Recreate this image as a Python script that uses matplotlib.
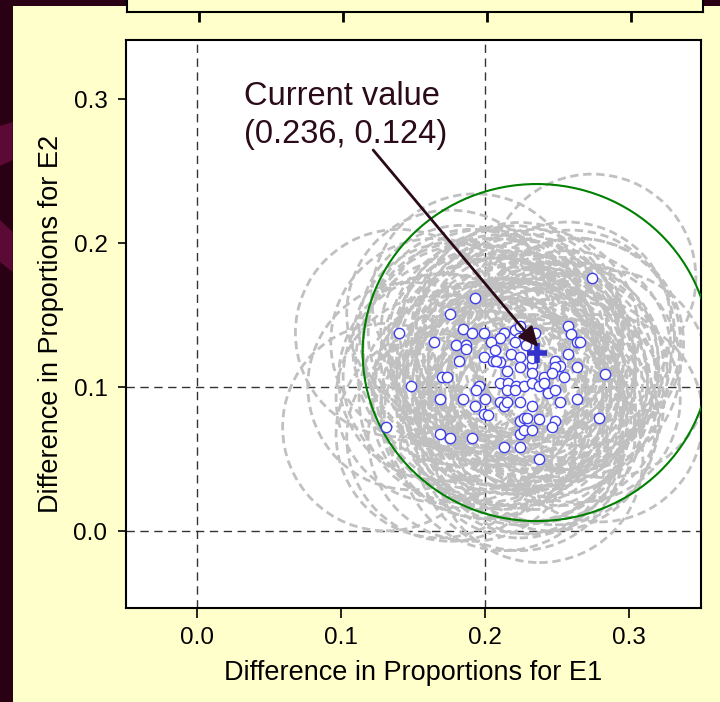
import matplotlib
matplotlib.use("Agg")
import matplotlib.pyplot as plt
from matplotlib.patches import Circle, Ellipse, Rectangle, Polygon
from matplotlib import font_manager

# ---------------- data ----------------
sim_x = [0.2748, 0.1933, 0.1759, 0.1402, 0.1845, 0.1908, 0.1996, 0.2130, 0.2105, 0.2045,
         0.2212, 0.2242, 0.2237, 0.2212, 0.2351, 0.2576, 0.2599, 0.2641, 0.2662, 0.1648,
         0.1799, 0.1871, 0.1871, 0.2068, 0.2288, 0.2576, 0.1822, 0.1996, 0.2054, 0.2105,
         0.2075, 0.2179, 0.2242, 0.2242, 0.2326, 0.2326, 0.2486, 0.2521, 0.2490, 0.2639,
         0.2154, 0.2328, 0.2411, 0.2465, 0.2551, 0.2836, 0.1703, 0.1734, 0.1488, 0.1956,
         0.1935, 0.2105, 0.2161, 0.2154, 0.2216, 0.2270, 0.2326, 0.2376, 0.2411, 0.2441,
         0.2490, 0.2212, 0.1685, 0.1845, 0.1998, 0.1933, 0.2103, 0.2130, 0.2156, 0.2244,
         0.2328, 0.2525, 0.2639, 0.1996, 0.2021, 0.2244, 0.2270, 0.2295, 0.2379, 0.2488,
         0.2465, 0.2797, 0.1313, 0.1685, 0.1759, 0.1908, 0.2242, 0.2270, 0.2328, 0.2133,
         0.2242, 0.2379]
sim_y = [0.1759, 0.1622, 0.1509, 0.1375, 0.1403, 0.1375, 0.1375, 0.1375, 0.1338, 0.1312,
         0.1400, 0.1423, 0.1342, 0.1310, 0.1375, 0.1426, 0.1370, 0.1315, 0.1310, 0.1312,
         0.1289, 0.1291, 0.1266, 0.1261, 0.1291, 0.1227, 0.1178, 0.1206, 0.1178, 0.1176,
         0.1178, 0.1227, 0.1208, 0.1141, 0.1152, 0.1199, 0.1183, 0.1148, 0.1141, 0.1143,
         0.1115, 0.1095, 0.1067, 0.1097, 0.1069, 0.1092, 0.1067, 0.1067, 0.1007, 0.1009,
         0.0979, 0.1032, 0.1032, 0.0979, 0.1007, 0.1007, 0.1030, 0.1007, 0.1032, 0.0960,
         0.0981, 0.0977, 0.0919, 0.0919, 0.0919, 0.0870, 0.0898, 0.0872, 0.0898, 0.0896,
         0.0870, 0.0898, 0.0919, 0.0810, 0.0805, 0.0764, 0.0784, 0.0784, 0.0782, 0.0764,
         0.0722, 0.0784, 0.0722, 0.0673, 0.0650, 0.0650, 0.0673, 0.0703, 0.0699, 0.0585,
         0.0585, 0.0502]
sample_radius = 0.072          # radius of each dashed grey circle
current_x, current_y = 0.236, 0.124
ring_x, ring_y = 0.236, 0.124   # green region centre
ring_rx, ring_ry = 0.121, 0.117  # green region half-widths
ref_x = [0.0, 0.2]
ref_y = [0.0, 0.1]
ticks = [0.0, 0.1, 0.2, 0.3]
tick_labels = ["0.0", "0.1", "0.2", "0.3"]
annot_text = "Current value\n(0.236, 0.124)"
annot_pos = (0.0325, 0.2646)
arrow_start = (0.1223, 0.2646)
arrow_tip = (0.2372, 0.1278)

# ---------------- style ----------------
W, H = 720, 702
YELLOW = "#FFFFCC"
MAROON = "#2A0014"
TEXT_C = "#2B0A1A"

names = {f.name for f in font_manager.fontManager.ttflist}
if "Liberation Sans Narrow" in names:
    label_font = ["Liberation Sans Narrow", "DejaVu Sans"]
    label_size = 24
else:
    label_font = ["Liberation Sans", "DejaVu Sans"]
    label_size = 19.5
tick_font = ["Liberation Sans", "DejaVu Sans"]


def fr(x0, y0, x1, y1):
    return [x0 / W, 1 - y1 / H, (x1 - x0) / W, (y1 - y0) / H]


fig = plt.figure(figsize=(W / 100, H / 100), dpi=100, facecolor=MAROON)
fig.patches.append(Rectangle((12.7 / W, 0), 1, (H - 6) / H, transform=fig.transFigure,
                             facecolor=YELLOW, edgecolor="none", zorder=-5))
for poly in ([(0, 126), (12.7, 122), (12.7, 160), (0, 166)],
             [(0, 220), (12.7, 232), (12.7, 272), (0, 262)]):
    fig.patches.append(Polygon([(px / W, 1 - py / H) for px, py in poly], closed=True,
                               transform=fig.transFigure, facecolor="#5A0A34",
                               edgecolor="none", zorder=-4))

# partial axes of the previous chart at the top
tax = fig.add_axes(fr(127, -10, 703, 11.5))
tax.set_facecolor(YELLOW)
tax.set_xlim(-0.05, 0.35)
tax.set_xticks(ticks)
tax.set_yticks([])
tax.tick_params(axis="x", direction="out", length=7, width=2, labelbottom=False)
for s in tax.spines.values():
    s.set_linewidth(1.5)

# main axes
ax = fig.add_axes(fr(125.5, 40, 700.5, 607.5))
ax.set_facecolor("white")
ax.set_xlim(-0.05, 0.35)
ax.set_ylim(-0.053, 0.341)

for xv in ref_x:
    ax.axvline(xv, color="#333333", lw=1.0, ls=(0, (6, 4)), zorder=1)
for yv in ref_y:
    ax.axhline(yv, color="#333333", lw=1.0, ls=(0, (6, 4)), zorder=1)

for cx, cy in zip(sim_x, sim_y):
    ax.add_patch(Circle((cx, cy), sample_radius, fill=False, edgecolor="#C0C0C0",
                        lw=2.0, ls=(0, (3.0, 1.7)), zorder=2))

ax.add_patch(Ellipse((ring_x, ring_y), 2 * ring_rx, 2 * ring_ry, fill=False,
                     edgecolor="#008000", lw=1.5, zorder=3))

ax.scatter(sim_x, sim_y, s=55, facecolor="white", edgecolor="#4040E8", lw=1.0, zorder=4)
ax.plot([current_x], [current_y], marker="+", ms=14, mew=4, color="#3333CC", zorder=5)

ax.text(annot_pos[0], annot_pos[1], annot_text, fontsize=23.5, family=tick_font,
        color=TEXT_C, ha="left", va="bottom", linespacing=1.3, zorder=6)
ax.annotate("", xy=arrow_tip, xytext=arrow_start,
            arrowprops=dict(arrowstyle="-|>,head_length=1.2,head_width=0.55",
                            color=TEXT_C, lw=2, shrinkA=0, shrinkB=0), zorder=6)

ax.set_xticks(ticks)
ax.set_xticklabels(tick_labels, family=tick_font, fontsize=17.5)
ax.set_yticks(ticks)
ax.set_yticklabels(tick_labels, family=tick_font, fontsize=17.5)
ax.tick_params(axis="x", direction="out", length=7, width=1.2, pad=7, colors="black")
ax.tick_params(axis="y", direction="out", length=6, width=1.2, pad=7, colors="black")
for s in ax.spines.values():
    s.set_linewidth(1.5)

ax.set_xlabel("Difference in Proportions for E1", family=label_font, fontsize=label_size,
              labelpad=8, color="black")
ax.set_ylabel("Difference in Proportions for E2", family=label_font, fontsize=label_size,
              labelpad=7, color="black")

fig.savefig("out.png", dpi=100, facecolor=fig.get_facecolor())
